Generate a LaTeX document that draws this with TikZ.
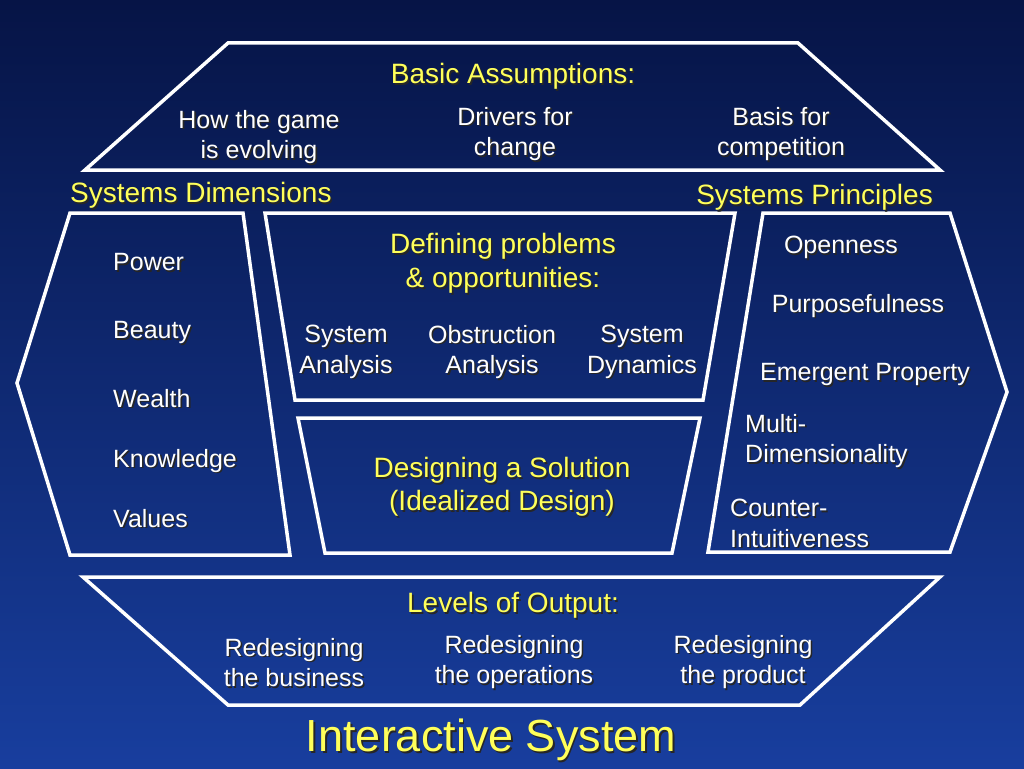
\documentclass[tikz,border=0pt]{standalone}
\usepackage{fontspec}
\setmainfont{Liberation Sans}
\definecolor{bgtop}{RGB}{6,20,70}
\definecolor{bgbot}{RGB}{24,62,158}
\definecolor{ylw}{RGB}{255,255,90}
\newcommand\shd[1]{\makebox[0pt][l]{\kern1.6pt\raisebox{-1.6pt}{\color{black!85}#1}}#1}
\tikzset{
  frame/.style={draw=white, line width=3.5pt, line join=miter},
  wtxt/.style={text=white, inner sep=0pt, align=center, font=\fontsize{25}{30.5}\selectfont},
  ytxt/.style={text=ylw, inner sep=0pt, align=center, font=\fontsize{28}{34}\selectfont},
}
\begin{document}
\begin{tikzpicture}[x=1pt,y=-1pt]
\useasboundingbox (0,0) rectangle (1024,768);
\shade[top color=bgtop, bottom color=bgbot] (0,0) rectangle (1024,768);
% frames
\draw[frame] (228,43) -- (798,43) -- (940,170) -- (85,170) -- cycle;
\draw[frame] (83,577) -- (940,577) -- (800,705) -- (228,705) -- cycle;
\draw[frame] (70,213) -- (243,213) -- (290,555) -- (70,555) -- (17,383) -- cycle;
\draw[frame] (763,213) -- (950,213) -- (1007,392) -- (950,552) -- (708,552) -- cycle;
\draw[frame] (265,213) -- (735,213) -- (703,400) -- (295,400) -- cycle;
\draw[frame] (298,418) -- (700,418) -- (672,553) -- (325,553) -- cycle;
% top
\node[ytxt, anchor=north] (ba) at (513,63) {\shd{Basic Assumptions:}};
\node[wtxt, anchor=north] (game) at (259,110) {\shd{How the game}\\\shd{is evolving}};
\node[wtxt, anchor=north] (drv) at (515,107) {\shd{Drivers for}\\\shd{change}};
\node[wtxt, anchor=north] (bas) at (781,107) {\shd{Basis for}\\\shd{competition}};
% headers
\node[ytxt, anchor=north west] (sd) at (70,182) {\shd{Systems Dimensions}};
\node[ytxt, anchor=north east] (sp) at (933,184) {\shd{Systems Principles}};
% left list
\node[wtxt, anchor=north west] (pow) at (113,253) {\shd{Power}};
\node[wtxt, anchor=north west] (bea) at (113,321) {\shd{Beauty}};
\node[wtxt, anchor=north west] (wea) at (113,389) {\shd{Wealth}};
\node[wtxt, anchor=north west] (kno) at (113,449) {\shd{Knowledge}};
\node[wtxt, anchor=north west] (val) at (113,509) {\shd{Values}};
% middle
\node[ytxt, anchor=north] (def) at (503,233) {\shd{Defining problems}\\\shd{\& opportunities:}};
\node[wtxt, anchor=north] (sa) at (346,325) {\shd{System}\\\shd{Analysis}};
\node[wtxt, anchor=north] (oa) at (492,325) {\shd{Obstruction}\\\shd{Analysis}};
\node[wtxt, anchor=north] (sdy) at (642,325) {\shd{System}\\\shd{Dynamics}};
\node[ytxt, anchor=north, font=\fontsize{28}{33}\selectfont] (des) at (502,457) {\shd{Designing a Solution}\\\shd{(Idealized Design)}};
% right list
\node[wtxt, anchor=north] (ope) at (841,236) {\shd{Openness}};
\node[wtxt, anchor=north] (pur) at (858,294) {\shd{Purposefulness}};
\node[wtxt, anchor=north] (eme) at (865,363) {\shd{Emergent Property}};
\node[wtxt, anchor=north west, align=left] (mul) at (745,414) {\shd{Multi-}\\\shd{Dimensionality}};
\node[wtxt, anchor=north west, align=left] (cou) at (730,499) {\shd{Counter-}\\\shd{Intuitiveness}};
% bottom
\node[ytxt, anchor=north] (lev) at (513,592) {\shd{Levels of Output:}};
\node[wtxt, anchor=north] (rb) at (294,638) {\shd{Redesigning}\\\shd{the business}};
\node[wtxt, anchor=north] (ro) at (514,635) {\shd{Redesigning}\\\shd{the operations}};
\node[wtxt, anchor=north] (rp) at (743,635) {\shd{Redesigning}\\\shd{the product}};
\node[text=ylw, inner sep=0pt, anchor=north, font=\fontsize{45}{54}\selectfont] (is) at (491,719) {\shd{Interactive System}};
\end{tikzpicture}
\end{document}
